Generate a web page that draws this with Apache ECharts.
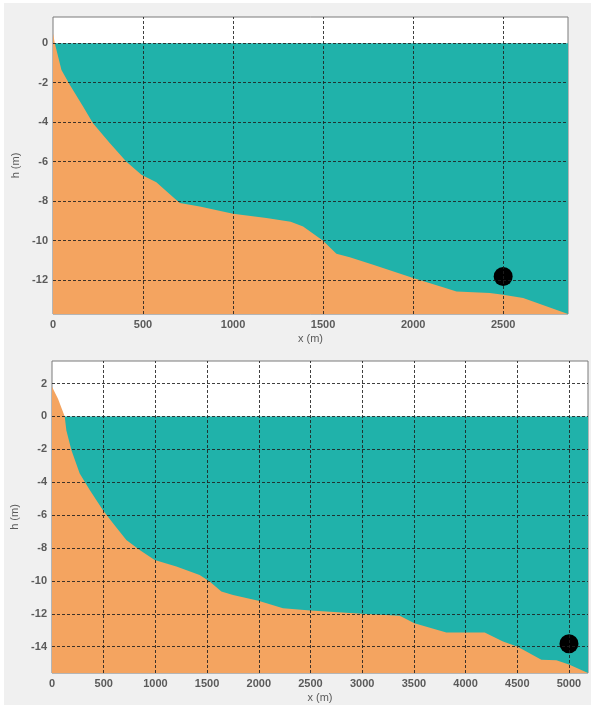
<!DOCTYPE html>
<html>
<head>
<meta charset="utf-8">
<script src="https://cdn.jsdelivr.net/npm/echarts@6/dist/echarts.min.js"></script>
<style>
html,body{margin:0;padding:0;background:#fff;}
#chart{width:591px;height:705px;}
</style>
</head>
<body>
<div id="chart"></div>
<script>
// ---- Top panel data ----
const topBedX = [0, 10, 47, 93, 167, 222, 315, 408, 491, 574, 630, 704, 815, 1000, 1185, 1320, 1389, 1498, 1574, 1648, 1778, 2000, 2148, 2241, 2426, 2500, 2611, 2860];
const topBedH = [0.5, 0, -1.35, -2.1, -3.2, -4.05, -5.05, -6.0, -6.67, -7.05, -7.5, -8.1, -8.27, -8.64, -8.86, -9.05, -9.28, -9.99, -10.67, -10.84, -11.23, -11.9, -12.32, -12.58, -12.66, -12.74, -12.91, -13.72];
const topXRange = [0, 2860];
const topYRange = [-13.72, 1.33];
const topXTicks = [0, 500, 1000, 1500, 2000, 2500];
const topYTicks = [-12, -10, -8, -6, -4, -2, 0];
const topSeaLevel = 0;
const topDot = [2500, -11.82];

// ---- Bottom panel data ----
const botBedX = [0, 58, 123, 139, 188, 268, 365, 493, 590, 719, 848, 993, 1203, 1428, 1525, 1638, 1751, 1996, 2234, 2499, 2998, 3363, 3505, 3814, 4185, 4362, 4504, 4733, 4878, 5000, 5184];
const botBedH = [1.8, 1.07, 0, -0.85, -2.06, -3.47, -4.48, -5.7, -6.5, -7.52, -8.12, -8.73, -9.13, -9.64, -10.04, -10.65, -10.85, -11.21, -11.66, -11.8, -12.0, -12.12, -12.57, -13.13, -13.13, -13.68, -14.0, -14.79, -14.83, -15.09, -15.6];
const botXRange = [0, 5184];
const botYRange = [-15.6, 3.37];
const botXTicks = [0, 500, 1000, 1500, 2000, 2500, 3000, 3500, 4000, 4500, 5000];
const botYTicks = [-14, -12, -10, -8, -6, -4, -2, 0, 2];
const botSeaLevel = 0;
const botDot = [5000, -13.82];

const WATER = '#20b2aa';
const SAND = '#f4a460';
const labelStyle = {color: '#5a5a5a', fontSize: 11, fontWeight: 'bold', fontFamily: 'Liberation Sans, Arial, sans-serif'};
const nameStyle = {color: '#5a5a5a', fontSize: 11, fontFamily: 'Liberation Sans, Arial, sans-serif'};
const gridLine = {type: [3, 2], color: '#1e1e1e', width: 1, opacity: 0.85};

function zip(xs, ys) { return xs.map((x, i) => [x, ys[i]]); }

function makeAxes(idx, xr, yr, xt, yt) {
  const fmt = v => String(v);
  const xAxis = {
    type: 'value', gridIndex: idx, min: xr[0], max: xr[1], z: 5,
    name: 'x (m)', nameLocation: 'middle', nameGap: 19, nameTextStyle: nameStyle,
    axisLine: {show: false}, axisTick: {show: false, customValues: xt}, splitLine: {show: false},
    axisLabel: Object.assign({margin: 5, customValues: xt, formatter: fmt}, labelStyle)
  };
  const yAxis = {
    type: 'value', gridIndex: idx, min: yr[0], max: yr[1], z: 5,
    name: 'h (m)', nameLocation: 'middle', nameGap: 29, nameRotate: 90, nameTextStyle: nameStyle,
    axisLine: {show: false}, axisTick: {show: false, customValues: yt}, splitLine: {show: false},
    axisLabel: Object.assign({margin: 5, customValues: yt, formatter: fmt}, labelStyle)
  };
  return [xAxis, yAxis];
}

function makeSeries(idx, bedX, bedH, xr, sea, xt, yt, dot) {
  const lines = [];
  xt.filter(v => v > xr[0]).forEach(v => lines.push({xAxis: v}));
  yt.forEach(v => lines.push({yAxis: v}));
  return [
    {
      type: 'line', xAxisIndex: idx, yAxisIndex: idx, z: 1,
      data: [[xr[0], sea], [xr[1], sea]], symbol: 'none',
      lineStyle: {width: 0}, areaStyle: {color: WATER, opacity: 1, origin: 'start'}
    },
    {
      type: 'line', xAxisIndex: idx, yAxisIndex: idx, z: 2,
      data: zip(bedX, bedH), symbol: 'none',
      lineStyle: {width: 0}, areaStyle: {color: SAND, opacity: 1, origin: 'start'}
    },
    {
      type: 'scatter', xAxisIndex: idx, yAxisIndex: idx, z: 4,
      data: [dot], symbolSize: 19, itemStyle: {color: '#000', opacity: 1},
      markLine: {
        silent: true, symbol: ['none', 'none'], label: {show: false},
        lineStyle: gridLine, data: lines, animation: false
      }
    }
  ];
}

const [tx, ty] = makeAxes(0, topXRange, topYRange, topXTicks, topYTicks);
const [bx, by] = makeAxes(1, botXRange, botYRange, botXTicks, botYTicks);

const chart = echarts.init(document.getElementById('chart'), null, {renderer: 'canvas'});
chart.setOption({
  animation: false,
  backgroundColor: '#f0f0f0',
  graphic: [
    {type: 'rect', left: 0, top: 0, shape: {width: 4, height: 705}, style: {fill: '#fff'}, z: -10},
    {type: 'rect', left: 0, top: 0, shape: {width: 591, height: 3}, style: {fill: '#fff'}, z: -10}
  ],
  grid: [
    {left: 53, right: 23, top: 17, bottom: 391, show: true, backgroundColor: '#fff', borderColor: '#7a7a7a', borderWidth: 1, z: 0},
    {left: 52, right: 3, top: 361, bottom: 32, show: true, backgroundColor: '#fff', borderColor: '#7a7a7a', borderWidth: 1, z: 0}
  ],
  xAxis: [tx, bx],
  yAxis: [ty, by],
  series: makeSeries(0, topBedX, topBedH, topXRange, topSeaLevel, topXTicks, topYTicks, topDot)
    .concat(makeSeries(1, botBedX, botBedH, botXRange, botSeaLevel, botXTicks, botYTicks, botDot))
});
</script>
</body>
</html>
